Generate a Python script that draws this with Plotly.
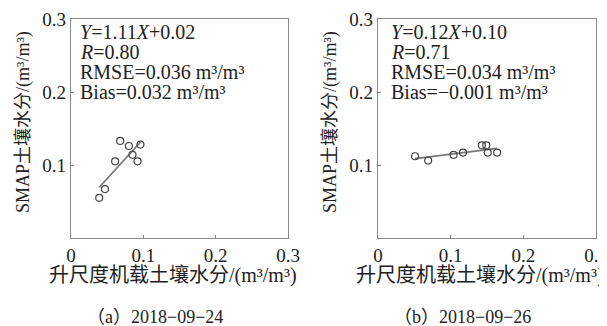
import numpy as np
import plotly.graph_objects as go

# Data
airborne_a = [0.039, 0.047, 0.061, 0.068, 0.080, 0.085, 0.092, 0.096]
smap_a = [0.055, 0.067, 0.105, 0.133, 0.126, 0.114, 0.105, 0.128]
airborne_b = [0.051, 0.069, 0.104, 0.117, 0.143, 0.149, 0.151, 0.164]
smap_b = [0.112, 0.106, 0.114, 0.117, 0.127, 0.127, 0.117, 0.117]

stats_a = ["<i>Y</i>=1.11<i>X</i>+0.02", "<i>R</i>=0.80",
           "RMSE=0.036 m³/m³", "Bias=0.032 m³/m³"]
stats_b = ["<i>Y</i>=0.12<i>X</i>+0.10", "<i>R</i>=0.71",
           "RMSE=0.034 m³/m³", "Bias=−0.001 m³/m³"]
captions = ["（a）2018−09−24", "（b）2018−09−26"]
xtitle = "升尺度机载土壤水分/(m³/m³)"
ytitle = "SMAP土壤水分/(m³/m³)"
xticks = [0, 0.1, 0.2, 0.3]
xticklabels = ["0", "0.1", "0.2", "0.3"]
yticks = [0.1, 0.2, 0.3]
yticklabels = ["0.1", "0.2", "0.3"]

# the page body has an 8px default margin; lay out in window pixels and offset
OFF = 8
WIN_W, WIN_H = 607, 326
W, H = WIN_W - OFF, WIN_H - OFF
FONT = "Liberation Serif, Times New Roman, Noto Sans CJK SC, serif"
CJK = "Liberation Serif, Noto Sans CJK SC, serif"


def px_x(x):
    return (x - OFF) / W


def px_y(y):
    return (H - (y - OFF)) / H


fig = go.Figure()

panels = [
    dict(x=airborne_a, y=smap_a, stats=stats_a, px=(71, 288), xa="x", ya="y", tx=80, cap=captions[0]),
    dict(x=airborne_b, y=smap_b, stats=stats_b, px=(378, 596), xa="x2", ya="y2", tx=391, cap=captions[1]),
]
top_px, bot_px = 19, 238

for i, p in enumerate(panels):
    xs = np.array(p["x"]); ys = np.array(p["y"])
    k, b = np.polyfit(xs, ys, 1)
    lx = np.array([xs.min(), xs.max()])
    fig.add_trace(go.Scatter(x=lx, y=k * lx + b, mode="lines",
                             line=dict(color="#7a7a7a", width=1.6),
                             xaxis=p["xa"], yaxis=p["ya"], showlegend=False, hoverinfo="skip"))
    fig.add_trace(go.Scatter(x=xs, y=ys, mode="markers",
                             marker=dict(symbol="circle-open", size=7, color="#444",
                                         line=dict(width=1.2, color="#444")),
                             xaxis=p["xa"], yaxis=p["ya"], showlegend=False))
    suffix = "" if i == 0 else "2"
    axcommon = dict(range=[0, 0.3], showgrid=False, zeroline=False, showline=True,
                    linecolor="#8a8a8a", linewidth=1.2, mirror=True,
                    ticks="inside", ticklen=3, tickcolor="#8a8a8a", automargin=False,
                    ticklabeloverflow="allow",
                    tickfont=dict(family=FONT, size=19, color="#222"))
    fig.update_layout(**{
        "xaxis" + suffix: dict(axcommon, domain=[px_x(p["px"][0]), px_x(p["px"][1])],
                               tickvals=xticks, ticktext=xticklabels,
                               anchor="y" + suffix),
        "yaxis" + suffix: dict(axcommon, domain=[px_y(bot_px), px_y(top_px)],
                               tickvals=yticks, ticktext=yticklabels,
                               anchor="x" + suffix),
    })
    # stats text
    for j, t in enumerate(p["stats"]):
        fig.add_annotation(text=t, xref="paper", yref="paper",
                           x=px_x(p["tx"] - 2), y=px_y(32 + 20 * j),
                           xanchor="left", yanchor="middle", showarrow=False,
                           font=dict(family=FONT, size=20, color="#222"))
    cx = (p["px"][0] + p["px"][1]) / 2
    # x title
    fig.add_annotation(text=xtitle, xref="paper", yref="paper",
                       x=px_x(cx - 7), y=px_y(275), xanchor="center", yanchor="middle",
                       showarrow=False, font=dict(family=CJK, size=20, color="#222"))
    # y title
    fig.add_annotation(text=ytitle, xref="paper", yref="paper",
                       x=px_x(p["px"][0] - 48), y=px_y(122), xanchor="center", yanchor="middle",
                       textangle=-90, showarrow=False, font=dict(family=CJK, size=18, color="#222"))
    # caption
    fig.add_annotation(text=p["cap"], xref="paper", yref="paper",
                       x=px_x(cx - 25), y=px_y(317), xanchor="center", yanchor="middle",
                       showarrow=False, font=dict(family=CJK, size=18, color="#222"))

fig.update_layout(width=W, height=H, margin=dict(l=0, r=0, t=0, b=0),
                  paper_bgcolor="white", plot_bgcolor="white")
fig.write_html("out.html")
